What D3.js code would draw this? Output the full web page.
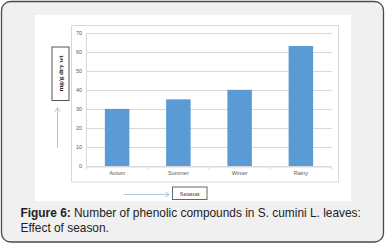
<!DOCTYPE html>
<html><head><meta charset="utf-8">
<script src="https://cdn.jsdelivr.net/npm/d3@7"></script>
<style>html,body{margin:0;padding:0;background:#fff;}</style>
</head><body>
<svg id="c" width="386" height="245"></svg>
<script>
const categories = ["Autum", "Summer", "Winter", "Rainy"];
const values = [30, 35, 40, 63];
const yTicks = [0, 10, 20, 30, 40, 50, 60, 70];
const yLabel = "mg/g dry wt";
const xLabel = "Season";
const captionBold = "Figure 6:";
const captionRest = " Number of phenolic compounds in S. cumini L. leaves:";
const captionLine2 = "Effect of season.";

const svg = d3.select("#c");
// card
svg.append("rect").attr("x", 1.5).attr("y", 1.5).attr("width", 382).attr("height", 240.5)
  .attr("rx", 9).attr("fill", "#f0f0f0").attr("stroke", "#4a4a4a").attr("stroke-width", 1.3);
// white image area
svg.append("rect").attr("x", 35).attr("y", 15).attr("width", 316).attr("height", 186).attr("fill", "#fff");
// chart border
svg.append("rect").attr("x", 71.5).attr("y", 25.5).attr("width", 267).attr("height", 156.5)
  .attr("fill", "none").attr("stroke", "#d9d9d9").attr("stroke-width", 1);

const x = d3.scaleBand().domain(categories).range([86.5, 331.5]).paddingInner(0.6).paddingOuter(0.3);
const y = d3.scaleLinear().domain([0, 70]).range([166, 32.7]);

// grid
svg.append("g").selectAll("line").data(yTicks).join("line")
  .attr("x1", 86).attr("x2", 331.5).attr("y1", d => Math.round(y(d)) + 0.5).attr("y2", d => Math.round(y(d)) + 0.5)
  .attr("stroke", "#d9d9d9").attr("stroke-width", 1);

// y axis
const ya = svg.append("g").attr("transform", "translate(86,0)")
  .call(d3.axisLeft(y).tickValues(yTicks).tickSize(0).tickPadding(4));
ya.select(".domain").attr("stroke", "#d9d9d9");
ya.selectAll("text").attr("font-family", "Liberation Sans, Arial, sans-serif").attr("font-size", 5.5).attr("fill", "#595959");

// bars
svg.append("g").selectAll("rect").data(values).join("rect")
  .attr("x", (d, i) => x(categories[i])).attr("width", x.bandwidth())
  .attr("y", d => y(d)).attr("height", d => y(0) - y(d))
  .attr("fill", "#5b9bd5");

// x axis
const xa = svg.append("g").attr("transform", "translate(0,166.5)")
  .call(d3.axisBottom(x).tickSize(0).tickPadding(5));
xa.select(".domain").attr("stroke", "#d9d9d9");
xa.selectAll("text").attr("font-family", "Liberation Sans, Arial, sans-serif").attr("font-size", 5.5).attr("fill", "#595959");
// boundary tick marks
const bounds = categories.map(c => x(c) - x.step() * x.paddingInner() / 2).concat([331.5]);
svg.append("g").selectAll("line").data(bounds).join("line")
  .attr("x1", d => d).attr("x2", d => d).attr("y1", 166.5).attr("y2", 169.5)
  .attr("stroke", "#d9d9d9");

// y label box
svg.append("rect").attr("x", 52).attr("y", 47).attr("width", 17).attr("height", 53.5)
  .attr("fill", "#fff").attr("stroke", "#555").attr("stroke-width", 1);
svg.append("text").attr("transform", "translate(60.5,73.5) rotate(-90)")
  .attr("text-anchor", "middle").attr("dominant-baseline", "central")
  .attr("font-family", "Liberation Serif, Times New Roman, serif").attr("font-weight", "bold")
  .attr("font-size", 7).attr("fill", "#222").text(yLabel);

// x label box
svg.append("rect").attr("x", 172.5).attr("y", 187).attr("width", 34.5).attr("height", 12.5)
  .attr("fill", "#fff").attr("stroke", "#666").attr("stroke-width", 1);
svg.append("text").attr("x", 189.7).attr("y", 193.5).attr("text-anchor", "middle").attr("dominant-baseline", "central")
  .attr("font-family", "Liberation Serif, Times New Roman, serif")
  .attr("font-size", 7).attr("fill", "#222").text(xLabel);

// arrows
const ac = "#a9c8df";
svg.append("line").attr("x1", 57.5).attr("x2", 57.5).attr("y1", 148).attr("y2", 109).attr("stroke", ac).attr("stroke-width", 1);
svg.append("path").attr("d", "M55,111.5 L57.5,107.5 L60,111.5").attr("fill", "none").attr("stroke", ac).attr("stroke-width", 1);
svg.append("line").attr("x1", 124).attr("x2", 168).attr("y1", 194.5).attr("y2", 194.5).attr("stroke", ac).attr("stroke-width", 1);
svg.append("path").attr("d", "M165.5,192 L169.5,194.5 L165.5,197").attr("fill", "none").attr("stroke", ac).attr("stroke-width", 1);

// caption
const cap = svg.append("text").attr("x", 20.5).attr("y", 216.5)
  .attr("font-family", "Liberation Sans, Arial, sans-serif").attr("font-size", 11.9).attr("fill", "#222");
cap.append("tspan").attr("font-weight", "bold").text(captionBold);
cap.append("tspan").text(captionRest);
svg.append("text").attr("x", 20.5).attr("y", 231.5)
  .attr("font-family", "Liberation Sans, Arial, sans-serif").attr("font-size", 11.9).attr("fill", "#222").text(captionLine2);
</script>
</body></html>
